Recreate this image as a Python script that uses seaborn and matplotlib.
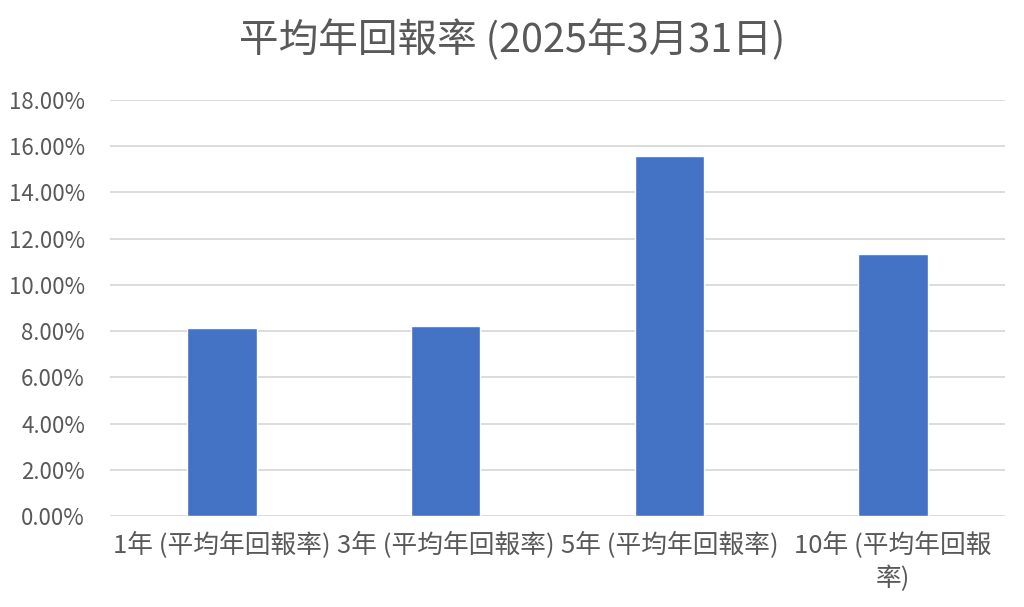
import matplotlib
matplotlib.use('Agg')
import matplotlib.pyplot as plt
import seaborn as sns
import pandas as pd
from matplotlib.ticker import PercentFormatter, MultipleLocator

# values (as fractions)
periods = ['1年 (平均年回報率)', '3年 (平均年回報率)', '5年 (平均年回報率)', '10年 (平均年回報\n率)']
returns = [0.0812, 0.0823, 0.1556, 0.1134]
title = '平均年回報率 (2025年3月31日)'

sns.set_theme(style='white')
plt.rcParams['font.family'] = ['Noto Sans CJK TC', 'DejaVu Sans']

text_color = '#595959'
bar_color = '#4472C4'

fig = plt.figure(figsize=(10.24, 6.07), dpi=100)
ax = fig.add_axes([110 / 1024, 1 - 516 / 607, 895 / 1024, 416 / 607])

df = pd.DataFrame({'period': periods, 'ret': returns})
sns.barplot(data=df, x='period', y='ret', color=bar_color, saturation=1,
            width=0.31, ax=ax)

ax.set_ylim(0, 0.18)
ax.yaxis.set_major_locator(MultipleLocator(0.02))
ax.yaxis.set_major_formatter(PercentFormatter(1.0, decimals=2))
ax.grid(axis='y', color='#D9D9D9', linewidth=1.3)
ax.set_axisbelow(True)
sns.despine(ax=ax, left=True, top=True, right=True, bottom=True)

ax.tick_params(axis='y', length=0, pad=18, labelsize=16, labelcolor=text_color)
ax.tick_params(axis='x', length=0, pad=11, labelsize=18.5, labelcolor=text_color)
for lbl in ax.get_xticklabels():
    lbl.set_linespacing(1.35)
ax.set_xlabel('')
ax.set_ylabel('')

fig.text(0.5, 1 - 40 / 607, title, ha='center', va='center',
         fontsize=28.5, color=text_color)

fig.savefig('out.png', dpi=100)
